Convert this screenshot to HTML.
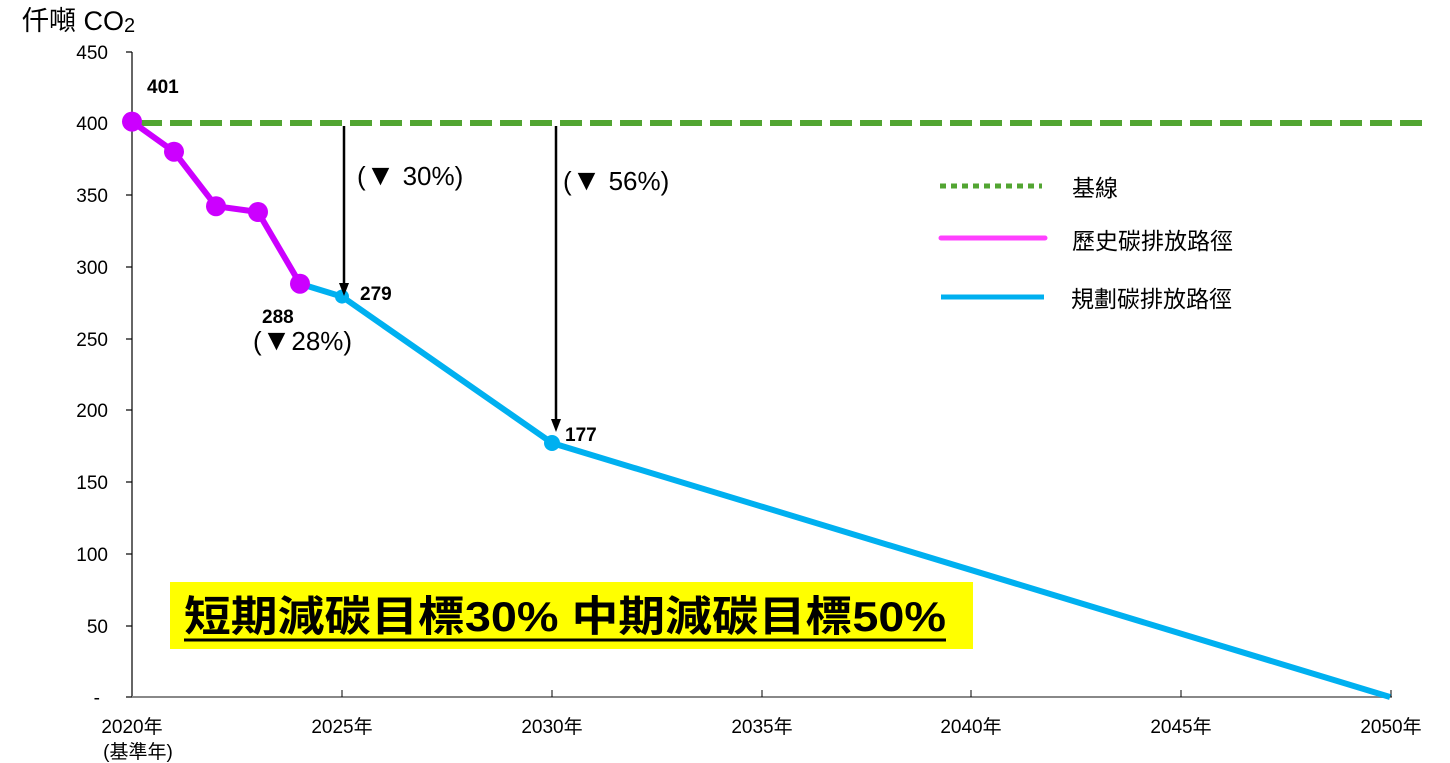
<!DOCTYPE html>
<html><head><meta charset="utf-8"><style>body{margin:0;background:#fff}svg{display:block}text{font-family:"Liberation Sans","Noto Sans CJK TC",sans-serif}</style></head>
<body>
<svg width="1450" height="763" viewBox="0 0 1450 763">
<text x="22" y="30" font-size="27" fill="#000">仟噸 CO<tspan font-size="20" dy="2">2</tspan></text>
<g font-size="19" fill="#000" text-anchor="end">
<text x="108" y="59">450</text><text x="108" y="130">400</text><text x="108" y="202">350</text><text x="108" y="274">300</text><text x="108" y="346">250</text><text x="108" y="417">200</text><text x="108" y="489">150</text><text x="108" y="561">100</text><text x="108" y="633">50</text><text x="100" y="704">-</text>
</g>
<g stroke="#000" stroke-width="1.2">
<line x1="132" y1="52" x2="132" y2="697"/>
<line x1="126" y1="52" x2="132" y2="52"/><line x1="126" y1="123" x2="132" y2="123"/><line x1="126" y1="195" x2="132" y2="195"/><line x1="126" y1="267" x2="132" y2="267"/><line x1="126" y1="339" x2="132" y2="339"/><line x1="126" y1="410" x2="132" y2="410"/><line x1="126" y1="482" x2="132" y2="482"/><line x1="126" y1="554" x2="132" y2="554"/><line x1="126" y1="626" x2="132" y2="626"/><line x1="126" y1="697" x2="132" y2="697"/>
</g>
<line x1="132" y1="697" x2="1392" y2="697" stroke="#888" stroke-width="2"/>
<g stroke="#000" stroke-width="1">
<line x1="342" y1="690" x2="342" y2="697"/><line x1="552" y1="690" x2="552" y2="697"/><line x1="762" y1="690" x2="762" y2="697"/><line x1="971" y1="690" x2="971" y2="697"/><line x1="1181" y1="690" x2="1181" y2="697"/><line x1="1391" y1="690" x2="1391" y2="697"/>
</g>
<g font-size="19" fill="#000" text-anchor="middle">
<text x="132" y="733">2020年</text><text x="138" y="758">(基準年)</text><text x="342" y="733">2025年</text><text x="552" y="733">2030年</text><text x="762" y="733">2035年</text><text x="971" y="733">2040年</text><text x="1181" y="733">2045年</text><text x="1391" y="733">2050年</text>
</g>
<line x1="140" y1="123" x2="1425" y2="123" stroke="#52a532" stroke-width="6" stroke-dasharray="22 8"/>
<polyline points="300,283.7 342,296.6 552,443 1390,697" fill="none" stroke="#00b0f0" stroke-width="6"/>
<circle cx="342" cy="296.6" r="7" fill="#00b0f0"/><circle cx="552" cy="443" r="8" fill="#00b0f0"/>
<polyline points="132,121.6 174,151.7 216,206.2 258,212 300,283.7" fill="none" stroke="#cc00ff" stroke-width="6"/>
<g fill="#cc00ff"><circle cx="132" cy="121.6" r="10"/><circle cx="174" cy="151.7" r="10"/><circle cx="216" cy="206.2" r="10"/><circle cx="258" cy="212" r="10"/><circle cx="300" cy="283.7" r="10"/></g>
<line x1="344" y1="126" x2="344" y2="285" stroke="#000" stroke-width="2.5"/>
<path d="M339,283 L349,283 L344,296 z" fill="#000"/>
<line x1="556" y1="126" x2="556" y2="420" stroke="#000" stroke-width="2.5"/>
<path d="M551,419 L561,419 L556,432 z" fill="#000"/>
<g font-size="19" font-weight="bold" fill="#000">
<text x="147" y="93">401</text><text x="360" y="300">279</text><text x="262" y="323">288</text><text x="565" y="441">177</text>
</g>
<g font-size="26" fill="#000">
<text x="357" y="185">(<tspan font-size="30">▼</tspan> 30%)</text><text x="563" y="190">(<tspan font-size="30">▼</tspan> 56%)</text><text x="253" y="350">(<tspan font-size="30">▼</tspan>28%)</text>
</g>
<line x1="940" y1="186" x2="1042" y2="186" stroke="#52a532" stroke-width="5" stroke-dasharray="6 5"/>
<line x1="941" y1="238" x2="1045" y2="238" stroke="#ff40ff" stroke-width="5" stroke-linecap="round"/>
<line x1="941" y1="297" x2="1044" y2="297" stroke="#00b0f0" stroke-width="5"/>
<g font-size="23" fill="#000">
<text x="1072" y="196">基線</text><text x="1072" y="249">歷史碳排放路徑</text><text x="1071" y="307">規劃碳排放路徑</text>
</g>
<rect x="170" y="582" width="803" height="67" fill="#ffff00"/>
<text x="184" y="631" font-size="42" font-weight="bold" fill="#000" textLength="762" lengthAdjust="spacingAndGlyphs">短期減碳目標30%  中期減碳目標50%</text>
<line x1="184" y1="640" x2="946" y2="640" stroke="#000" stroke-width="3"/>
</svg>
</body></html>
